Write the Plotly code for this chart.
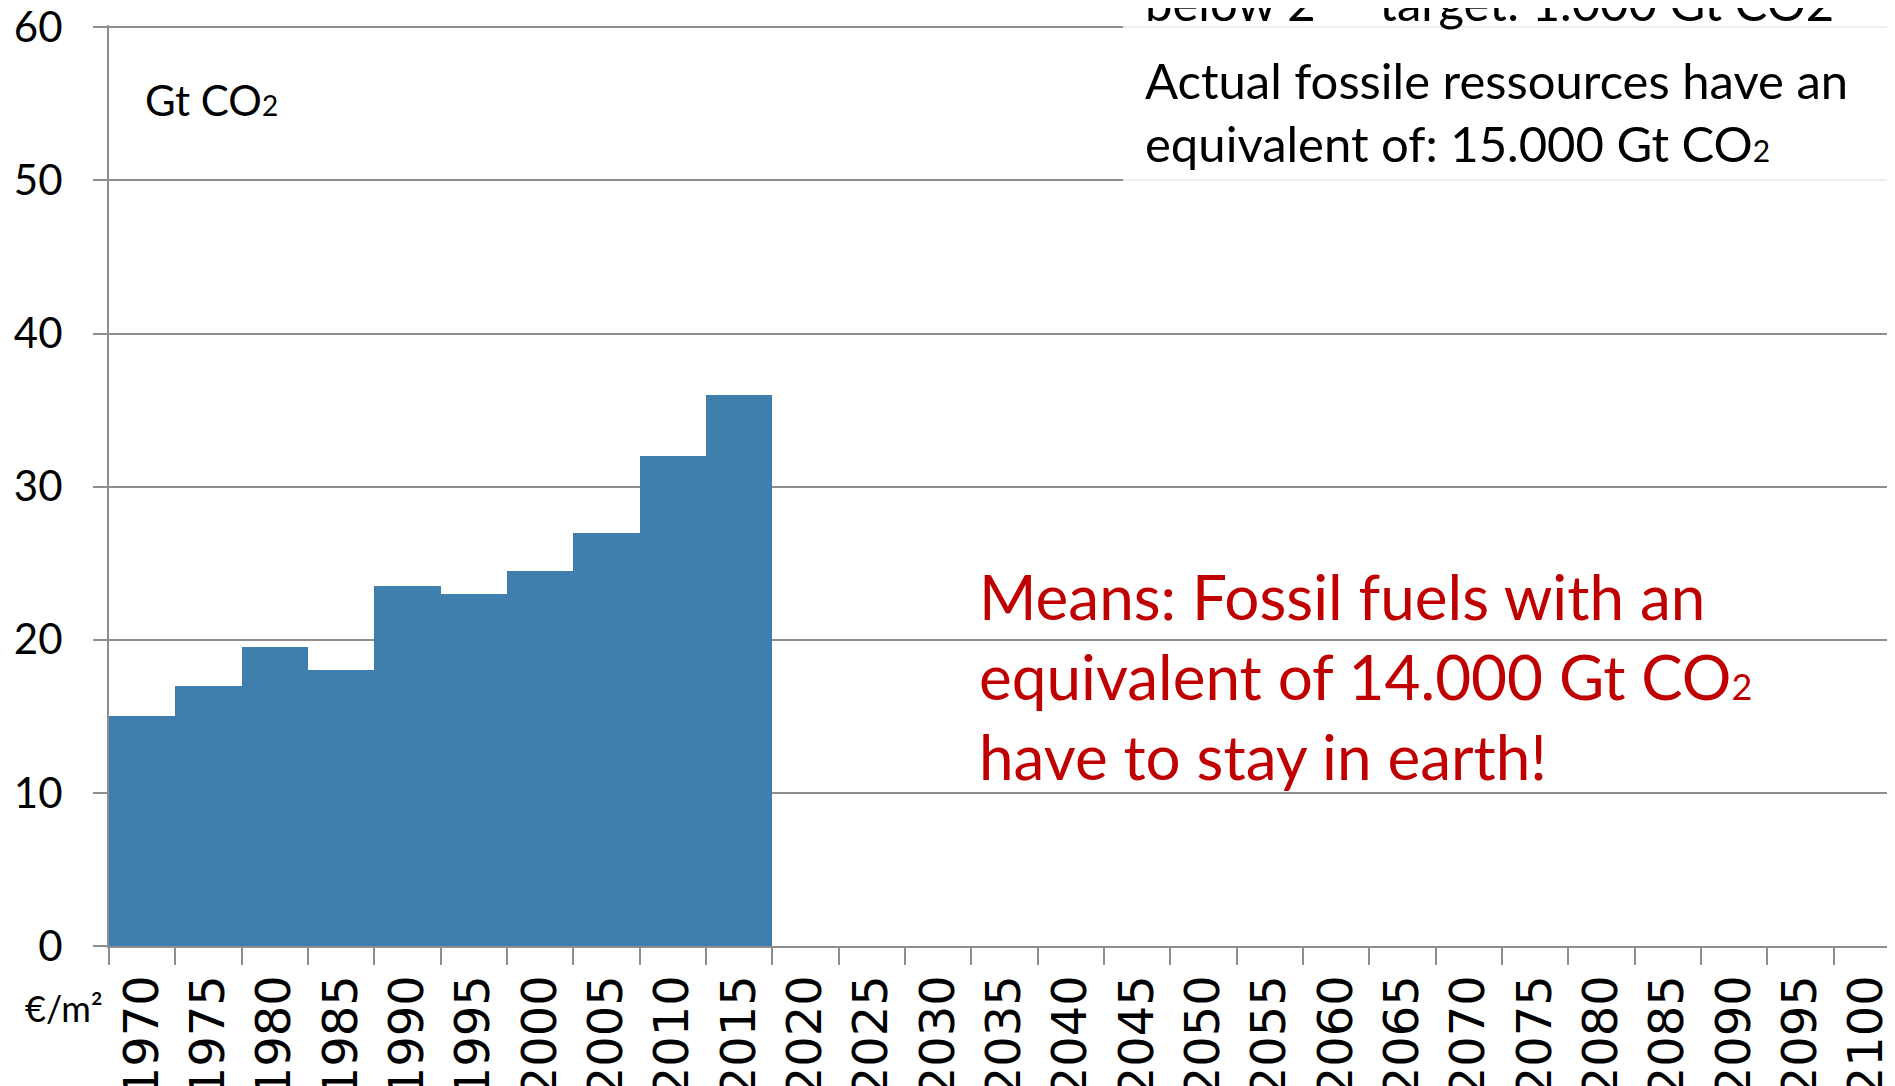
import plotly.graph_objects as go

# category axis: 5-year steps
years = ["1970", "1975", "1980", "1985", "1990", "1995", "2000", "2005", "2010",
         "2015", "2020", "2025", "2030", "2035", "2040", "2045", "2050", "2055",
         "2060", "2065", "2070", "2075", "2080", "2085", "2090", "2095", "2100"]

# Gt CO2 per year, future years empty
emissions = [15, 17, 19.5, 18, 23.5, 23, 24.5, 27, 32, 36,
             None, None, None, None, None, None, None, None, None,
             None, None, None, None, None, None, None, None]

y_ticks = [0, 10, 20, 30, 40, 50, 60]

W, H = 1895, 1086
OFF = 8  # the page body margin shifts the figure by 8px
L, T, R = 101, 17, 0
B = H - (946 - OFF)
PW, PH = W - L - R, H - T - B
BLUE = "#407FAD"
GRID = "#8E8E8E"
RED = "#C00000"
CAL = "Lato, 'Open Sans', sans-serif"


def px_x(x):
    # window pixel -> paper fraction
    return (x - OFF - L) / PW


def px_y(y):
    return (H - B - (y - OFF)) / PH


def sub2(size):
    return f"<span style='font-size:{size}px'>2</span>"


fig = go.Figure()

fig.add_trace(go.Bar(
    x=years,
    y=emissions,
    marker=dict(color=BLUE, line=dict(width=0)),
    showlegend=False,
    hoverinfo="x+y",
))

# half transparent text box in the upper right
fig.add_shape(
    type="rect", xref="paper", yref="paper",
    x0=px_x(1123), x1=1.02, y0=px_y(205), y1=1.1,
    fillcolor="rgba(255,255,255,0.85)", line=dict(width=0), layer="above",
)

notes = [
    ("below 2° - target: 1.000 Gt CO2", 1143, 2, 49, "black"),
    ("Actual fossile ressources have an", 1143, 80, 49, "black"),
    ("equivalent of: 15.000 Gt CO" + sub2(30), 1143, 143, 49, "black"),
    ("Gt CO" + sub2(28), 143, 100, 42, "black"),
    ("Means: Fossil fuels with an", 977, 596, 62, RED),
    ("equivalent of 14.000 Gt CO" + sub2(36), 977, 676, 62, RED),
    ("have to stay in earth!", 977, 756, 62, RED),
    ("€/m²", 23, 1008, 36, "black"),
]
for text, x, y, size, color in notes:
    fig.add_annotation(
        text=text, xref="paper", yref="paper", x=px_x(x), y=px_y(y),
        xanchor="left", yanchor="middle", showarrow=False,
        font=dict(family=CAL, size=size, color=color),
    )

fig.update_layout(
    width=W, height=H,
    margin=dict(l=L, r=R, t=T, b=B, autoexpand=False),
    plot_bgcolor="white", paper_bgcolor="white",
    bargap=0,
    xaxis=dict(
        type="category",
        range=[-0.5, -0.5 + PW / 66.33],
        tickson="boundaries",
        ticks="outside", ticklen=17, tickwidth=2, tickcolor=GRID,
        tickangle=-90,
        tickfont=dict(family="DejaVu Sans", size=48, color="black"),
        ticklabelstandoff=8,
        ticklabeloverflow="allow",
        showgrid=False,
        showline=True, linecolor=GRID, linewidth=2,
        automargin=False,
    ),
    yaxis=dict(
        range=[0, 60.15],
        tickvals=y_ticks,
        ticks="outside", ticklen=14, tickwidth=2, tickcolor=GRID,
        tickfont=dict(family=CAL, size=42, color="black"),
        ticklabelstandoff=22,
        ticklabeloverflow="allow",
        showgrid=True, gridcolor=GRID, gridwidth=2,
        zeroline=False,
        showline=True, linecolor=GRID, linewidth=2,
        automargin=False,
    ),
)

fig.write_html("out.html")
